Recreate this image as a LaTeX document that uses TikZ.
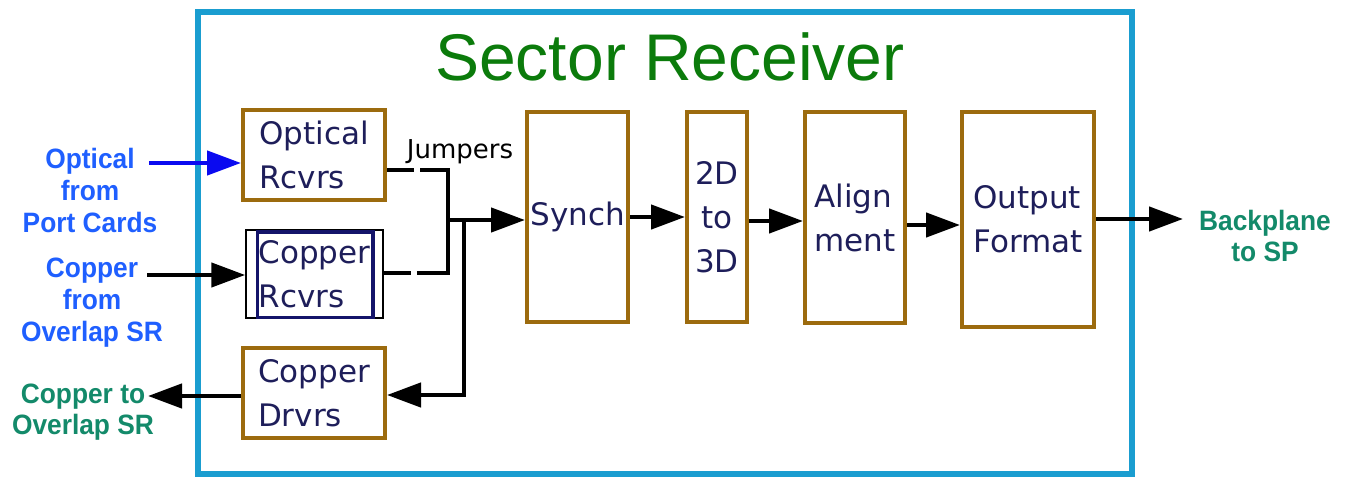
\documentclass[tikz,border=0pt]{standalone}
\usepackage{fontspec}
\setmainfont{Liberation Sans}
\newfontfamily\boxfont{DejaVu Sans}
\newfontfamily\lblfont[FakeStretch=0.94]{Liberation Sans}
\usetikzlibrary{arrows.meta}
\definecolor{frameblue}{HTML}{1A9DD0}
\definecolor{boxbrown}{HTML}{9C6B0E}
\definecolor{navytext}{HTML}{1E1E5A}
\definecolor{navyline}{HTML}{14146A}
\definecolor{lblblue}{HTML}{1F5FFF}
\definecolor{lblgreen}{HTML}{138A6A}
\definecolor{titlegreen}{HTML}{0B7B0B}
\definecolor{arrowblue}{HTML}{0A0AF0}
\begin{document}
\begin{tikzpicture}[x=1pt,y=-1pt,
  blk/.style={draw=boxbrown, line width=4pt, fill=white, inner sep=0pt,
    font=\boxfont\fontsize{31}{44}\selectfont, text=navytext, align=left},
  conn/.style={line width=4.5pt, draw=black, line join=miter,
    -{Triangle[length=34pt,width=24pt]}},
  jump/.style={line width=4.5pt, draw=black, line join=miter,
    dash pattern=on 27pt off 6pt on 400pt},
  lbl/.style={font=\lblfont\bfseries\fontsize{28}{32}\selectfont, align=center, inner sep=0pt},
  lblg/.style={lbl, text=lblgreen, font=\lblfont\bfseries\fontsize{28}{31}\selectfont}]
\useasboundingbox (0,0) rectangle (1348,481);
\fill[white] (0,0) rectangle (1348,481);
\draw[frameblue, line width=6pt] (198,12) rectangle (1132,474);
\node[font=\fontsize{66}{70}\selectfont, text=titlegreen, inner sep=0pt] (title) at (670,57) {Sector Receiver};

% boxes
\node[blk, minimum width=142pt, minimum height=90pt] (opt) at (314,155) {Optical\\Rcvrs};
\node[draw=black, line width=1.5pt, fill=white, minimum width=137pt, minimum height=88pt, inner sep=0pt] (cop) at (314.5,274) {};
\draw[navyline, line width=3.5pt] ([xshift=12pt,yshift=-2.5pt]cop.north west) rectangle ([xshift=-11pt,yshift=1.5pt]cop.south east);
\node[font=\boxfont\fontsize{31}{44}\selectfont, text=navytext, align=left, inner sep=0pt] (coptext) at (cop.center) {Copper\\Rcvrs};
\node[blk, minimum width=142pt, minimum height=90pt] (drv) at (314,393) {Copper\\Drvrs};
\node[blk, minimum width=101pt, minimum height=210pt] (syn) at (577.5,217) {Synch};
\node[blk, minimum width=60pt, minimum height=210pt, align=center] (td) at (717,217) {2D\\to\\3D};
\node[blk, minimum width=100pt, minimum height=211pt] (al) at (855,217.5) {Align\\ment};
\node[blk, minimum width=132pt, minimum height=215pt] (out) at (1028,219.5) {Output\\Format};

% labels
\node[lbl, text=lblblue] (lopt) at (90,190) {Optical\\from\\Port Cards};
\node[lbl, text=lblblue] (lcop) at (92,303) {Copper\\from\\Overlap SR};
\node[lblg] (ldrv) at (83,412) {Copper to\\Overlap SR};
\node[lblg] (lbp) at (1265,236) {Backplane\\to SP};
\node[font=\boxfont\fontsize{26}{30}\selectfont, text=black, inner sep=0pt] (jumpers) at (460,152) {Jumpers};

% coordinates
\coordinate (optsrc) at (149,163);
\coordinate (copsrc) at (147,275);
\coordinate (drvdst) at (148,396);
\coordinate (j1) at (448,170);
\coordinate (j2) at (448,273);
\coordinate (jt) at (448,220);
\coordinate (br) at (464,220);
\coordinate (brd) at (464,395);
\coordinate (tdal) at (0,221);
\coordinate (ao) at (0,225);
\coordinate (bp) at (1183,219);

% connectors
\draw[conn, draw=arrowblue, fill=arrowblue] (optsrc) -- (optsrc -| opt.west);
\draw[conn] (copsrc) -- (copsrc -| cop.west);
\draw[conn] (drvdst -| drv.west) -- (drvdst);
\draw[jump] (j1 -| opt.east) -- (j1) -- (jt);
\draw[jump] (j2 -| cop.east) -- (j2) -- (jt);
\draw[conn] (jt) -- (jt -| syn.west);
\draw[conn] (br) |- (brd -| drv.east);
\draw[conn] (syn.east) -- (td.west);
\draw[conn] (td.east |- tdal) -- (al.west |- tdal);
\draw[conn] (al.east |- ao) -- (out.west |- ao);
\draw[conn] (bp -| out.east) -- (bp);
\end{tikzpicture}
\end{document}
